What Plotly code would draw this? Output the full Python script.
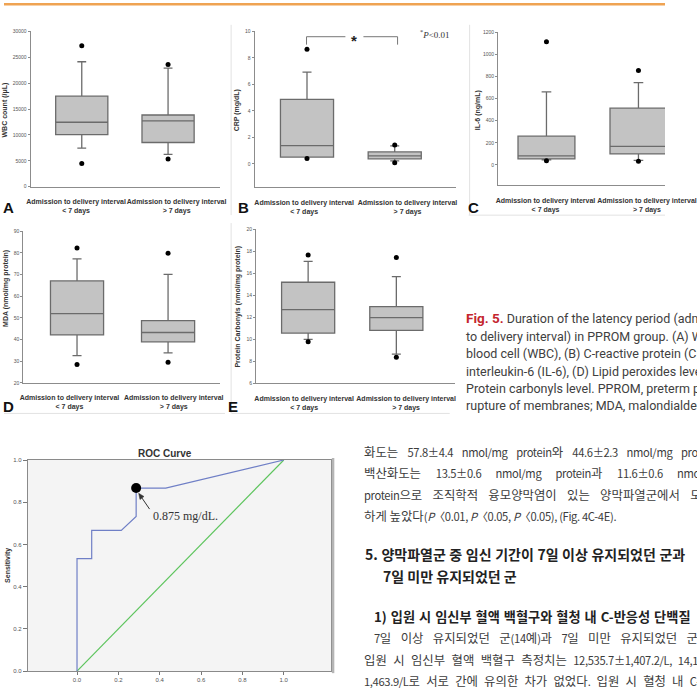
import re
import plotly.graph_objects as go

W, H = 697, 693


def px(x):
    return x / W


def py(y):
    return 1 - y / H


# ---------------- DATA ----------------
categories = ["Admission to delivery interval<br>< 7 days",
              "Admission to delivery interval<br>> 7 days"]

# (A) WBC count (/uL)
wbc_q1 = [10080, 8540]
wbc_median = [12450, 12700]
wbc_q3 = [17490, 13850]
wbc_lower = [7470, 6250]
wbc_upper = [24140, 22910]
wbc_outliers = [[27260, 4460], [23620, 5360]]

# (B) CRP (mg/dL)
crp_q1 = [0.51, 0.38]
crp_median = [1.38, 0.60]
crp_q3 = [4.87, 0.90]
crp_lower = [0.51, 0.23]
crp_upper = [6.92, 1.36]
crp_outliers = [[8.65, 0.40], [1.43, 0.08]]

# (C) IL-6 (ng/mL)
il6_q1 = [54, 99]
il6_median = [81, 167]
il6_q3 = [260, 514]
il6_lower = [45, 41]
il6_upper = [661, 745]
il6_outliers = [[1116, 38], [855, 32]]

# (D) MDA (nmol/mg protein)
mda_q1 = [42.2, 39.0]
mda_median = [52.0, 43.3]
mda_q3 = [67.1, 48.8]
mda_lower = [32.6, 33.9]
mda_upper = [77.3, 70.1]
mda_outliers = [[82.3, 28.5], [79.9, 29.6]]

# (E) Protein carbonyls (nmol/mg protein)
pc_q1 = [10.57, 10.81]
pc_median = [12.70, 11.98]
pc_q3 = [15.19, 12.97]
pc_lower = [10.00, 8.65]
pc_upper = [17.08, 15.70]
pc_outliers = [[17.66, 9.78], [17.44, 8.38]]

# ROC curve
roc_fpr = [0, 0, 0.071, 0.071, 0.214, 0.286, 0.286, 0.429, 1.0]
roc_tpr = [0, 0.533, 0.533, 0.667, 0.667, 0.733, 0.867, 0.867, 1.0]
ref_x = [0, 1]
ref_y = [0, 1]
cutoff_fpr = [0.286]
cutoff_tpr = [0.867]
cutoff_label = "0.875 mg/dL."

caption_lines = [
    "<span style='color:#c4262e;font-size:13.5px'><b>Fig. 5.</b></span> Duration of the latency period (admission",
    "to delivery interval) in PPROM group. (A) White",
    "blood cell (WBC), (B) C-reactive protein (CRP), (C)",
    "interleukin-6 (IL-6), (D) Lipid peroxides level, (E)",
    "Protein carbonyls level. PPROM, preterm premature",
    "rupture of membranes; MDA, malondialdehyde.",
]

# "§" marks an italic P
korean_lines = [
    "화도는 57.8±4.4 nmol/mg protein와 44.6±2.3 nmol/mg protein,",
    "백산화도는 13.5±0.6 nmol/mg protein과 11.6±0.6 nmol/mg",
    "protein으로 조직학적 융모양막염이 있는 양막파열군에서 모두 유의",
    "하게 높았다(§〈0.01, §〈0.05, §〈0.05), (Fig. 4C-4E).",
]
korean_heading = ["5. 양막파열군 중 임신 기간이 7일 이상 유지되었던 군과",
                  "7일 미만 유지되었던 군"]
korean_sub = "1) 입원 시 임신부 혈액 백혈구와 혈청 내 C-반응성 단백질"
korean_lines2 = [
    "7일 이상 유지되었던 군(14예)과 7일 미만 유지되었던 군(15예)의",
    "입원 시 임신부 혈액 백혈구 측정치는 12,535.7±1,407.2/L, 14,1",
    "1,463.9/L로 서로 간에 유의한 차가 없었다. 입원 시 혈청 내 C-",
]

# ---------------- FIGURE ----------------
fig = go.Figure()
layout = {}
annotations = []
shapes = []

BOX_FILL = "#c3c3c3"
BOX_LINE = "#6b6b6b"
AX_COL = "#8c8c8c"


def add_panel(n, q1, med, q3, lo, hi, outs, geom):
    x0, x1 = geom["xpx"]
    ytop, ybot = geom["ypx"]
    c0, c1 = geom["centers"]
    l0, l1 = geom["labels"]
    sp = c1 - c0
    xr = [(x0 - c0) / sp, (x1 - c0) / sp]
    sfx = "" if n == 1 else str(n)
    fig.add_trace(go.Box(
        x=[0, 1], q1=q1, median=med, q3=q3, lowerfence=lo, upperfence=hi,
        orientation="v", width=geom["boxw"] / sp, whiskerwidth=0.17,
        fillcolor=BOX_FILL, line=dict(color=BOX_LINE, width=1.3),
        boxpoints=False, showlegend=False, hoverinfo="skip",
        xaxis="x" + sfx, yaxis="y" + sfx))
    ox, oy = [], []
    for i, vals in enumerate(outs):
        for v in vals:
            ox.append(i)
            oy.append(v)
    fig.add_trace(go.Scatter(
        x=ox, y=oy, mode="markers", marker=dict(color="#000", size=5),
        showlegend=False, hoverinfo="skip", xaxis="x" + sfx, yaxis="y" + sfx))
    layout["xaxis" + sfx] = dict(
        domain=[px(x0), min(1, px(x1))], range=xr, anchor="y" + sfx,
        tickvals=[(l0 - c0) / sp, (l1 - c0) / sp],
        ticktext=["<b>" + c + "</b>" for c in categories], tickangle=0,
        ticklabeloverflow="allow",
        tickfont=dict(size=7, color="#333", family="Liberation Sans, Arial"),
        ticks="outside", ticklen=8, tickcolor="rgba(0,0,0,0)",
        showline=True, linecolor=AX_COL, linewidth=1,
        showgrid=False, zeroline=False, fixedrange=True)
    layout["yaxis" + sfx] = dict(
        domain=[py(ybot), py(ytop)], range=geom["yrange"], anchor="x" + sfx,
        tick0=geom["tick0"], dtick=geom["dtick"], tickformat="d",
        tickfont=dict(size=5, color="#555", family="Liberation Sans, Arial"),
        ticks="outside", ticklen=2, tickcolor=AX_COL,
        showline=True, linecolor=AX_COL, linewidth=1,
        showgrid=False, zeroline=False, fixedrange=True)


add_panel(1, wbc_q1, wbc_median, wbc_q3, wbc_lower, wbc_upper, wbc_outliers,
          dict(xpx=(28, 228), ypx=(28.7, 185.3), centers=(82, 173), labels=(76, 182),
               boxw=55, yrange=[0, 30000], tick0=0, dtick=5000))
add_panel(2, crp_q1, crp_median, crp_q3, crp_lower, crp_upper, crp_outliers,
          dict(xpx=(264.3, 477), ypx=(28.7, 186), centers=(319.5, 412), labels=(316.5, 425.5),
               boxw=56, yrange=[-1.78, 10], tick0=0, dtick=2))
add_panel(3, il6_q1, il6_median, il6_q3, il6_lower, il6_upper, il6_outliers,
          dict(xpx=(521, 697), ypx=(29.7, 184), centers=(572, 669), labels=(571, 678),
               boxw=60, yrange=[-186, 1200], tick0=0, dtick=200))
add_panel(4, mda_q1, mda_median, mda_q3, mda_lower, mda_upper, mda_outliers,
          dict(xpx=(20.3, 228), ypx=(230.3, 383.3), centers=(77, 173), labels=(69, 179),
               boxw=56, yrange=[20, 90], tick0=20, dtick=10))
add_panel(5, pc_q1, pc_median, pc_q3, pc_lower, pc_upper, pc_outliers,
          dict(xpx=(265.7, 476), ypx=(228.3, 383.7), centers=(320.7, 413.7), labels=(316.5, 424),
               boxw=56, yrange=[6, 20], tick0=6, dtick=2))

# ---------- ROC ----------
rx0, rx1 = 25, 345
ry0, ry1 = 461, 674
shapes.append(dict(type="rect", xref="paper", yref="paper", x0=px(rx0), x1=px(rx1),
                   y0=py(ry1), y1=py(ry0), fillcolor="#f4f4f4", line=dict(width=0),
                   layer="below"))
fig.add_trace(go.Scatter(x=ref_x, y=ref_y, mode="lines",
                         line=dict(color="#5cc45c", width=1.2),
                         showlegend=False, hoverinfo="skip", xaxis="x6", yaxis="y6"))
fig.add_trace(go.Scatter(x=roc_fpr, y=roc_tpr, mode="lines",
                         line=dict(color="#6f7fc6", width=1.2),
                         showlegend=False, hoverinfo="skip", xaxis="x6", yaxis="y6"))
fig.add_trace(go.Scatter(x=cutoff_fpr, y=cutoff_tpr, mode="markers",
                         marker=dict(color="#000", size=10),
                         showlegend=False, hoverinfo="skip", xaxis="x6", yaxis="y6"))
x0v = (rx0 - 77) / 218
x1v = (rx1 - 77) / 218
layout["xaxis6"] = dict(domain=[px(rx0), px(rx1)], range=[x0v, x1v], anchor="y6",
                        tickvals=[0, 0.2, 0.4, 0.6, 0.8, 1.0], tickformat=".1f",
                        tickfont=dict(size=6, color="#555", family="Liberation Sans, Arial"),
                        ticks="outside", ticklen=3, tickcolor="#777",
                        showline=True, mirror=True, linecolor="#8a8a8a", linewidth=1,
                        showgrid=False, zeroline=False, fixedrange=True)
layout["yaxis6"] = dict(domain=[py(ry1), py(ry0)], range=[0, 1], anchor="x6",
                        tickvals=[0, 0.2, 0.4, 0.6, 0.8, 1.0], tickformat=".1f",
                        tickfont=dict(size=6, color="#555", family="Liberation Sans, Arial"),
                        ticks="outside", ticklen=4, tickcolor="#777",
                        showline=True, mirror=True, linecolor="#8a8a8a", linewidth=1,
                        showgrid=False, zeroline=False, fixedrange=True)
annotations.append(dict(xref="paper", yref="paper", x=px(170), y=py(454),
                        text="<b>ROC Curve</b>", showarrow=False,
                        font=dict(size=10, color="#333", family="Liberation Sans, Arial"),
                        xanchor="center", yanchor="middle"))
annotations.append(dict(xref="paper", yref="paper", x=px(4), y=py(567),
                        text="<b>Sensitivity</b>", showarrow=False, textangle=-90,
                        font=dict(size=7, color="#333", family="Liberation Sans, Arial"),
                        xanchor="center", yanchor="middle"))
annotations.append(dict(xref="paper", yref="paper", x=px(155), y=py(517),
                        text=cutoff_label, showarrow=False,
                        font=dict(size=12, color="#333", family="Liberation Serif, Times New Roman"),
                        xanchor="left", yanchor="middle"))
# arrow from label to cut-off point (line + small head)
tail = (153.5, 510.5)
head = (142.0, 494.5)
dx, dy = head[0] - tail[0], head[1] - tail[1]
L = (dx * dx + dy * dy) ** 0.5
ux, uy = dx / L, dy / L
bx, by = head[0] - 6 * ux, head[1] - 6 * uy
pxv, pyv = -uy, ux
shapes.append(dict(type="line", xref="paper", yref="paper", x0=px(tail[0]), y0=py(tail[1]),
                   x1=px(bx), y1=py(by), line=dict(color="#333", width=1)))
shapes.append(dict(type="path", xref="paper", yref="paper",
                   path=(f"M {px(head[0])} {py(head[1])} L {px(bx + 2.6 * pxv)} {py(by + 2.6 * pyv)} "
                         f"L {px(bx - 2.6 * pxv)} {py(by - 2.6 * pyv)} Z"),
                   fillcolor="#333", line=dict(color="#333", width=0.5)))
shapes.append(dict(type="line", xref="paper", yref="paper", x0=px(347), x1=px(347),
                   y0=py(676), y1=py(459), line=dict(color="#b5b5b5", width=2.5)))

# ---------- panel labels, axis titles ----------
for lab, x, y in [("A", 5, 206), ("B", 253, 206), ("C", 495, 206), ("D", 5, 407), ("E", 241, 407)]:
    annotations.append(dict(xref="paper", yref="paper", x=px(x), y=py(y),
                            text="<b>" + lab + "</b>", showarrow=False,
                            font=dict(size=15, color="#111", family="Liberation Sans, Arial"),
                            xanchor="center", yanchor="middle"))

for t, x, y in [("WBC count (/μL)", 1.5, 108), ("CRP (mg/dL)", 246, 108),
                ("IL-6 (ng/mL)", 500, 108), ("MDA (nmol/mg protein)", 1.5, 288),
                ("Protein Carbonyls (nmol/mg protein)", 247, 306)]:
    annotations.append(dict(xref="paper", yref="paper", x=px(x), y=py(y),
                            text="<b>" + t + "</b>", showarrow=False, textangle=-90,
                            font=dict(size=7, color="#333", family="Liberation Sans, Arial"),
                            xanchor="center", yanchor="middle"))

# significance bracket on panel B
shapes.append(dict(type="path", xref="paper", yref="paper",
                   path=f"M {px(319)} {py(42)} L {px(319)} {py(34)} L {px(360)} {py(34)}",
                   line=dict(color="#777", width=1)))
shapes.append(dict(type="path", xref="paper", yref="paper",
                   path=f"M {px(379)} {py(34)} L {px(415)} {py(34)} L {px(415)} {py(42)}",
                   line=dict(color="#777", width=1)))
annotations.append(dict(xref="paper", yref="paper", x=px(369), y=py(38),
                        text="<b>*</b>", showarrow=False,
                        font=dict(size=15, color="#222", family="Liberation Sans, Arial"),
                        xanchor="center", yanchor="middle"))
annotations.append(dict(xref="paper", yref="paper", x=px(437), y=py(31),
                        text="<sup>*</sup><i>P</i><0.01", showarrow=False,
                        font=dict(size=9, color="#333", family="Liberation Serif, Times New Roman"),
                        xanchor="left", yanchor="middle"))

# faint panel frames
for (a, b, c, d) in [(490, 214, 697, 214), (0, 414, 233, 414), (240, 414, 470, 414),
                     (239.5, 222, 239.5, 414), (491, 22, 491, 214), (239.5, 22, 239.5, 214)]:
    shapes.append(dict(type="line", xref="paper", yref="paper", x0=px(a), y0=py(b),
                       x1=px(c), y1=py(d), line=dict(color="#e2e2e2", width=1)))

# top orange rule
shapes.append(dict(type="rect", xref="paper", yref="paper", x0=0, x1=1,
                   y0=py(2.5), y1=1, fillcolor="#efa352", line=dict(width=0)))

# ---------- caption ----------
cap_y = [318, 336, 354, 371.5, 389, 406.5]
for i, (t, y) in enumerate(zip(caption_lines, cap_y)):
    annotations.append(dict(xref="paper", yref="paper", x=px(485), y=py(y),
                            text=t, showarrow=False, align="left",
                            font=dict(size=12.5, color="#404040",
                                      family="Roboto, sans-serif"),
                            xanchor="left", yanchor="middle"))

# ---------- Korean body text ----------
KFONT = "Noto Sans CJK KR"
LAT_RE = re.compile(r"([A-Za-z0-9§±〈.,/()\-]+(?:[ .,/()\-]*[A-Za-z0-9§±〈.,/()\-]+)*)")


def kr(t, ws=0.0, size=11.2, ls=-0.35):
    out = LAT_RE.sub(lambda m: f"<span style='font-size:{size}px;letter-spacing:{ls}px'>{m.group(1)}</span>", t)
    out = out.replace("§", "<i>P</i>")
    if ws:
        out = f"<span style='word-spacing:{ws}px'>{out}</span>"
    return out


for t, y, ws in zip(korean_lines, [453, 474.5, 496, 517], [6.5, 12, 7.5, 0]):
    annotations.append(dict(xref="paper", yref="paper", x=px(378), y=py(y), text=kr(t, ws),
                            showarrow=False, xanchor="left", yanchor="middle",
                            font=dict(size=12.4, color="#3c3c3c", family=KFONT)))
for t, x, y, ws in [(korean_heading[0], 379, 556, 0.4), (korean_heading[1], 398, 578, 0)]:
    txt = "<b>" + t + "</b>"
    if ws:
        txt = f"<span style='word-spacing:{ws}px'>{txt}</span>"
    annotations.append(dict(xref="paper", yref="paper", x=px(x), y=py(y), text=txt,
                            showarrow=False, xanchor="left", yanchor="middle",
                            font=dict(size=14.0, color="#222", family=KFONT)))
annotations.append(dict(xref="paper", yref="paper", x=px(388), y=py(619),
                        text="<span style='word-spacing:1px'><b>" + korean_sub + "</b></span>",
                        showarrow=False, xanchor="left", yanchor="middle",
                        font=dict(size=13.2, color="#222", family=KFONT)))
for t, x, y, ws in zip(korean_lines2, [388, 378, 378], [641, 662.5, 684], [6.6, 3.6, 3.4]):
    annotations.append(dict(xref="paper", yref="paper", x=px(x), y=py(y), text=kr(t, ws),
                            showarrow=False, xanchor="left", yanchor="middle",
                            font=dict(size=12.4, color="#3c3c3c", family=KFONT)))

fig.update_layout(
    width=W, height=H, autosize=False,
    margin=dict(l=0, r=0, t=0, b=0, pad=0),
    paper_bgcolor="white", plot_bgcolor="rgba(0,0,0,0)",
    showlegend=False, annotations=annotations, shapes=shapes,
    **layout)

fig.write_html("out.html", config={"displayModeBar": False})
